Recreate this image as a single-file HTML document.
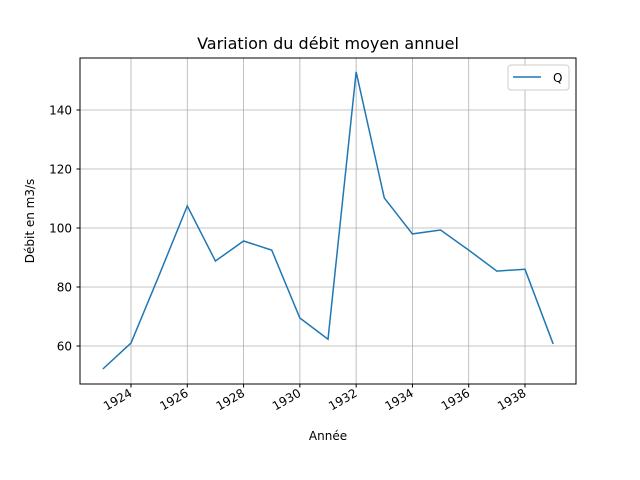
<!DOCTYPE html>
<html><head><meta charset="utf-8"><style>
body{margin:0;background:#fff;}
svg{display:block;font-family:"DejaVu Sans","Liberation Sans",sans-serif;}
</style></head><body>
<svg id="chart" width="640" height="480">
<rect width="640" height="480" fill="#fff"/>
<text x="328" y="49" font-size="16" text-anchor="middle">Variation du débit moyen annuel</text>
<g id="grid"></g>
<g id="axes"></g>
<polyline id="line" fill="none" stroke="#1f77b4" stroke-width="1.5"/>
<rect x="80" y="58" width="496" height="326" fill="none" stroke="#000" stroke-width="1"/>
<text x="328" y="440" font-size="12" text-anchor="middle">Année</text>
<text transform="translate(34,221) rotate(-90)" font-size="12" text-anchor="middle">Débit en m3/s</text>
<g>
<rect x="508" y="65" width="61" height="25" rx="3" fill="#fff" stroke="#ccc"/>
<line x1="513" y1="77" x2="541" y2="77" stroke="#1f77b4" stroke-width="1.5"/>
<text x="553" y="82" font-size="12">Q</text>
</g>
</svg>
<script>
const years=[1923,1924,1925,1926,1927,1928,1929,1930,1931,1932,1933,1934,1935,1936,1937,1938,1939];
const flows=[52.2,61,84,107.5,88.8,95.6,92.5,69.5,62.3,152.9,110.2,98,99.3,92.5,85.4,86,60.7];
const xTicks=[1924,1926,1928,1930,1932,1934,1936,1938];
const yTicks=[60,80,100,120,140];
const x=v=>131+(v-1924)*28.143;
const y=v=>346-(v-60)*2.95;
const ns="http://www.w3.org/2000/svg";
const grid=document.getElementById('grid'),axes=document.getElementById('axes');
function mk(tag,attrs,parent){const e=document.createElementNS(ns,tag);for(const k in attrs)e.setAttribute(k,attrs[k]);parent.appendChild(e);return e;}
xTicks.forEach(t=>{
 const g=mk('line',{x1:x(t),x2:x(t),y1:58,y2:384,stroke:'#b0b0b0','stroke-width':0.8},grid);
 
 
 mk('line',{x1:x(t),x2:x(t),y1:384,y2:387.5,stroke:'#000'},axes);
 const tx=mk('text',{x:x(t),y:396,'font-size':12,'text-anchor':'end',transform:`rotate(-30 ${x(t)} 392)`},axes);
 tx.textContent=t;
 
 
});
yTicks.forEach(t=>{
 const g=mk('line',{x1:80,x2:576,y1:y(t),y2:y(t),stroke:'#b0b0b0','stroke-width':0.8},grid);
 
 
 mk('line',{x1:76.5,x2:80,y1:y(t),y2:y(t),stroke:'#000'},axes);
 const tx=mk('text',{x:72,y:y(t)+4.5,'font-size':12,'text-anchor':'end'},axes);
 tx.textContent=t;
 
 
});
document.getElementById('line').setAttribute('points',years.map((yr,i)=>x(yr)+','+y(flows[i])).join(' '));
</script>
</body></html>
